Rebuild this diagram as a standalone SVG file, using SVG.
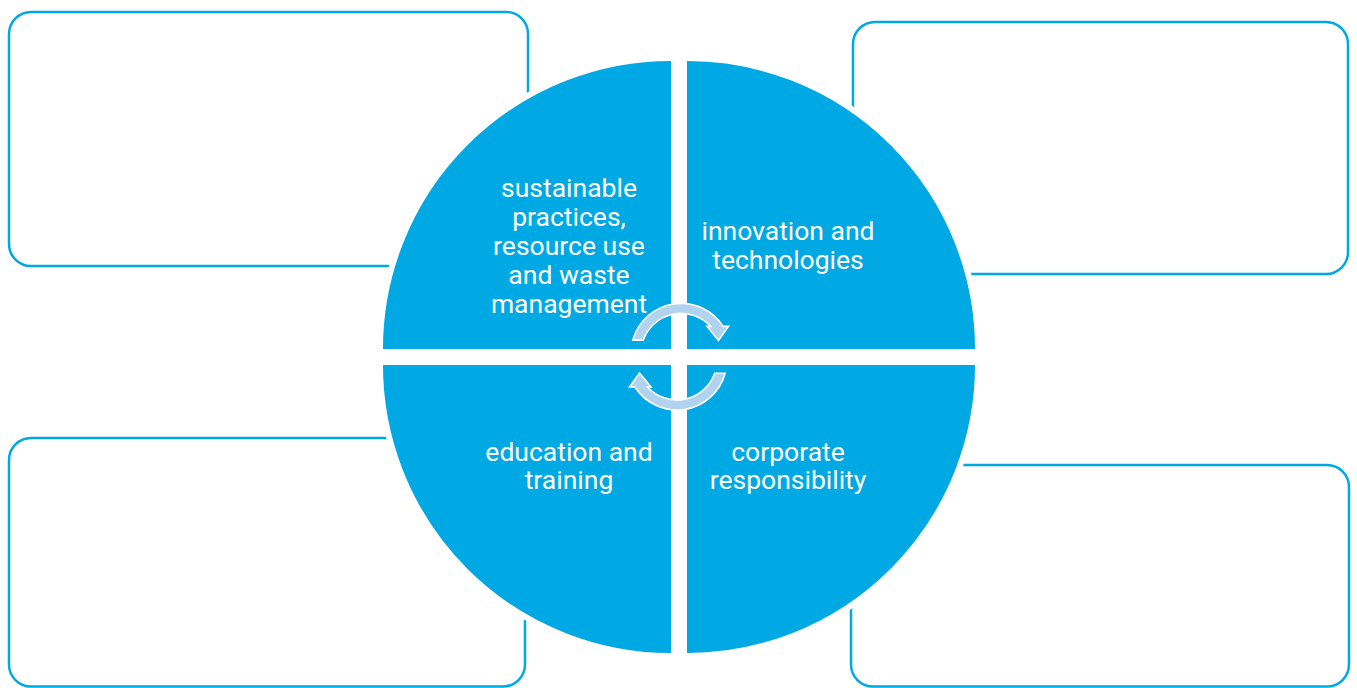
<svg xmlns="http://www.w3.org/2000/svg" width="1357" height="688" viewBox="0 0 1357 688">
  <style>
    .box { fill: #ffffff; stroke: #00A8E4; stroke-width: 2.5; }
    .quad { fill: #00A8E4; stroke: #ffffff; stroke-width: 6; stroke-linejoin: miter; }
    .lbl { font-family: Roboto, "Liberation Sans", sans-serif; font-size: 26.5px; fill: #ffffff; text-anchor: middle; }
    .cyc { fill: #B1D3F0; stroke: #ffffff; stroke-width: 1.6; stroke-linejoin: miter; }
  </style>
  <rect width="1357" height="688" fill="#ffffff"/>
  <g id="box-top-left"><rect class="box" x="9" y="12" width="519" height="254" rx="22"/></g>
  <g id="box-top-right"><rect class="box" x="853" y="22" width="495" height="252" rx="22"/></g>
  <g id="box-bottom-left"><rect class="box" x="9" y="438" width="516" height="248.5" rx="22"/></g>
  <g id="box-bottom-right"><rect class="box" x="851" y="465" width="498" height="221.5" rx="22"/></g>

  <g id="quad-sustainable">
    <path class="quad" d="M 674 352 L 380 352 A 291 291 0 0 1 674 58 Z"/>
    <text class="lbl" x="569" y="197">sustainable</text>
    <text class="lbl" x="569" y="226">practices,</text>
    <text class="lbl" x="569" y="255">resource use</text>
    <text class="lbl" x="569" y="284">and waste</text>
    <text class="lbl" x="569" y="313">management</text>
  </g>
  <g id="quad-innovation">
    <path class="quad" d="M 684 352 L 684 58 A 291 291 0 0 1 978 352 Z"/>
    <text class="lbl" x="788" y="240">innovation and</text>
    <text class="lbl" x="788" y="269">technologies</text>
  </g>
  <g id="quad-corporate">
    <path class="quad" d="M 684 362 L 978 362 A 291 291 0 0 1 684 656 Z"/>
    <text class="lbl" x="788" y="461">corporate</text>
    <text class="lbl" x="788" y="489">responsibility</text>
  </g>
  <g id="quad-education">
    <path class="quad" d="M 674 362 L 674 656 A 291 291 0 0 1 380 362 Z"/>
    <text class="lbl" x="569" y="461">education and</text>
    <text class="lbl" x="569" y="489">training</text>
  </g>

  <g id="connectors">
    <path id="cycle-lower" class="cyc" d="M 725.2 373.3 A 50 50 0 0 1 634.9 387 L 629.5 387 L 639.5 373 L 651 387 L 647.5 387 A 40 40 0 0 0 714.7 373.3 Z"/>
    <path id="cycle-upper" class="cyc" transform="rotate(180 679 356.7)" d="M 725.2 373.3 A 50 50 0 0 1 634.9 387 L 629.5 387 L 639.5 373 L 651 387 L 647.5 387 A 40 40 0 0 0 714.7 373.3 Z"/>
  </g>
</svg>
